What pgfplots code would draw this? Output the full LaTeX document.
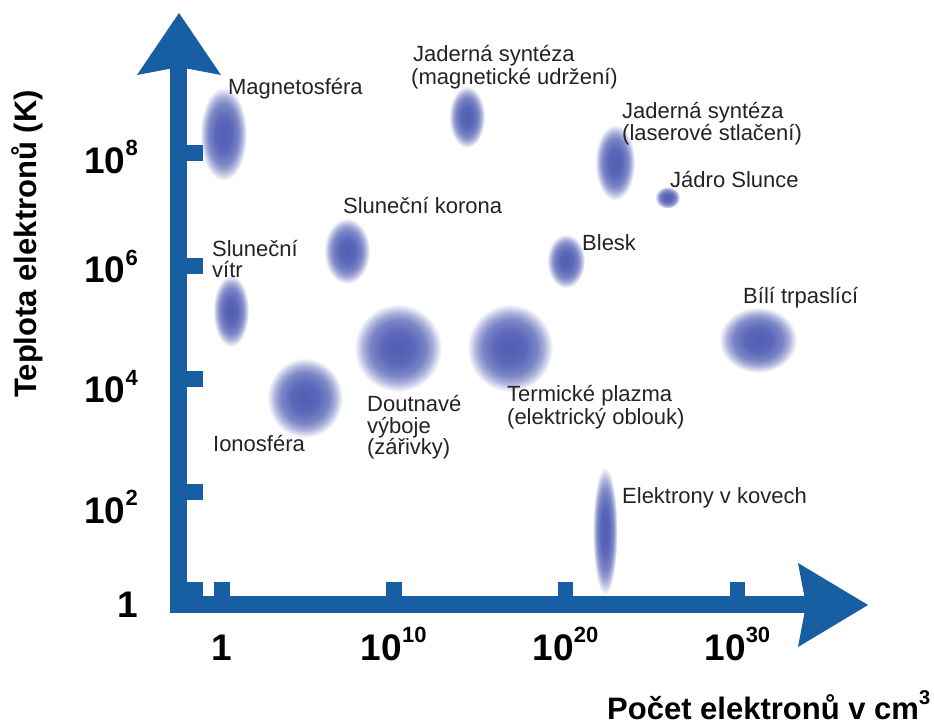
\documentclass[border=0pt]{standalone}
\usepackage{fontspec}
\setmainfont{Liberation Sans}
\usepackage{pgfplots}
\pgfplotsset{compat=1.18}
\usepackage{pgfplotstable}
\usetikzlibrary{arrows.meta}
\definecolor{axblue}{RGB}{24,94,163}
\definecolor{blobc}{RGB}{80,94,180}
\definecolor{txt}{RGB}{35,35,35}
\pgfdeclareplotmark{blobmark}{}
\pgfdeclareradialshading{blob}{\pgfpointorigin}{%
  color(0bp)=(blobc); color(9bp)=(blobc!94!white); color(16bp)=(blobc!75!white);
  color(20bp)=(blobc!48!white); color(23.5bp)=(blobc!14!white); color(25bp)=(white); color(50bp)=(white)}
\newcommand\lbl{\fontsize{22}{22}\selectfont}
\newcommand\tnum{\fontsize{37}{37}\selectfont\bfseries}
\newcommand\axlab{\fontsize{31}{31}\selectfont\bfseries}
\newcommand\supx[1]{\raisebox{17pt}{\fontsize{22}{22}\selectfont\bfseries #1}}
\pgfplotstableread{
x y rx ry
0.087 8.336 23.5 47
0.524 5.204 18 36
7.276 6.265 23 33
4.831 3.664 38 40
10.244 4.549 44 44
16.764 4.549 43 44
14.261 8.637 18 31
22.875 7.832 20 38
25.931 7.212 12.5 11
20.023 6.088 19 27
31.199 4.690 39 33
22.293 1.310 12.5 64
}\blobs
\begin{document}
\begin{tikzpicture}
\begin{axis}[
  set layers,
  scale only axis, width=689pt, height=592pt,
  xmin=-2.5, xmax=37.6, ymin=0, ymax=10.478,
  axis lines=left, axis on top, clip=false,
  axis line style={line width=17pt, draw=axblue, line cap=rect},
  x axis line style={-{Stealth[length=70pt, width=84pt, inset=8pt, line width=0pt]}},
  y axis line style={-{Stealth[length=62pt, width=84pt, inset=8pt, line width=0pt]}},
  tick align=inside,
  major tick length=23.5pt,
  tick style={line width=15.5pt, draw=axblue},
  xtick={0,10,20,30},
  ytick={0,2,4,6,8},
  extra y ticks={0.27}, extra y tick labels={},
  extra y tick style={major tick length=23.5pt, tick style={line width=15.5pt, draw=axblue}},
  xticklabels={1, 10\supx{10}, 10\supx{20}, 10\supx{30}},
  xticklabel style={anchor=base, yshift=-55pt, inner sep=0pt, font=\tnum, text=black},
  yticklabels={\raisebox{8pt}{1}, \raisebox{-11pt}{10\supx{2}}, \raisebox{-4pt}{10\supx{4}}, \raisebox{4pt}{10\supx{6}}, 10\supx{8}},
  yticklabel style={anchor=base east, xshift=-41pt, yshift=-20pt, inner sep=0pt, font=\tnum, text=black},
  ylabel={Teplota elektronů (K)},
  ylabel style={at={(axis description cs:-0.2075,0.6098)}, anchor=base, inner sep=0pt, font=\axlab, text=black},
  xlabel={Počet elektronů v cm\raisebox{15pt}{\fontsize{20}{20}\selectfont 3}},
  xlabel style={at={(axis description cs:0.6212,-0.1926)}, anchor=base west, inner sep=0pt, font=\axlab, text=black},
]
\addplot[scatter, only marks, mark=blobmark,
  visualization depends on={\thisrow{rx}\as\rx},
  visualization depends on={\thisrow{ry}\as\ry},
  scatter/@pre marker code/.append code={\path[shade, shading=blob, draw=none] (0pt,0pt) ellipse [x radius=\rx pt, y radius=\ry pt];},
] table {\blobs};
\begin{pgfonlayer}{axis foreground}
\begin{scope}[every node/.style={anchor=base west, inner sep=0pt, font=\lbl, text=txt}]
\node at (axis cs:0.349,9.044) {Magnetosféra};
\node at (axis cs:11.118,9.611) {Jaderná syntéza};
\node at (axis cs:11.001,9.221) {(magnetické udržení)};
\node at (axis cs:23.283,8.619) {Jaderná syntéza};
\node at (axis cs:23.283,8.230) {(laserové stlačení)};
\node at (axis cs:26.077,7.398) {Jádro Slunce};
\node at (axis cs:7.043,6.938) {Sluneční korona};
\node at (axis cs:-0.582,6.160) {Sluneční};
\node at (axis cs:-0.582,5.805) {vítr};
\node at (axis cs:20.955,6.283) {Blesk};
\node at (axis cs:30.326,5.345) {Bílí trpaslící};
\node at (axis cs:-0.524,2.708) {Ionosféra};
\node at (axis cs:8.440,3.416) {Doutnavé};
\node at (axis cs:8.440,3.044) {výboje};
\node at (axis cs:8.440,2.655) {(zářivky)};
\node at (axis cs:16.589,3.593) {Termické plazma};
\node at (axis cs:16.589,3.186) {(elektrický oblouk)};
\node at (axis cs:23.283,1.788) {Elektrony v kovech};
\end{scope}
\end{pgfonlayer}
\end{axis}
\pgfresetboundingbox
\path (current axis.south west) ++(-179pt,-120pt) rectangle ++(934pt,725pt);
\end{tikzpicture}
\end{document}
